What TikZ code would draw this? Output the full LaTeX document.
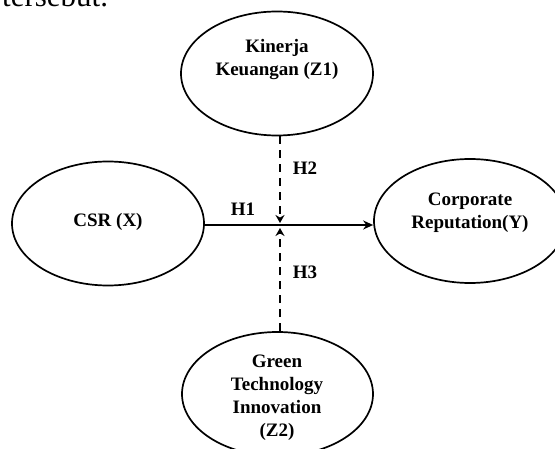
\documentclass[tikz,border=0pt]{standalone}
\usepackage{fontspec}
\setmainfont{Liberation Serif}
\usetikzlibrary{shapes.geometric,arrows.meta}
\tikzset{
  ell/.style={draw, ellipse, line width=1.7pt, inner sep=0pt, minimum width=192pt, minimum height=124pt},
  lbl/.style={font=\fontsize{19}{23}\selectfont\bfseries, align=center, inner sep=0pt},
  hlbl/.style={font=\fontsize{19}{23}\selectfont\bfseries, inner sep=0pt},
  mainarrow/.style={line width=2.3pt, -{Stealth[length=10pt,width=9pt]}},
  dasharrow/.style={line width=2.6pt, dash pattern=on 8pt off 6pt, -{Stealth[length=8pt,width=9pt]}}
}
\begin{document}
\begin{tikzpicture}[x=1pt,y=-1pt]
\useasboundingbox (0,0) rectangle (555,449);
\clip (0,0) rectangle (555,449);
\node[anchor=base west, inner sep=0pt, font=\fontsize{31}{36}\selectfont] (top) at (2,7) {tersebut.};
% ellipses
\node[ell] (z1) at (277,73.5) {};
\node[lbl] (z1t) at (277,60) {Kinerja\\Keuangan (Z1)};
\node[ell] (x) at (108,223.5) {};
\node[lbl] (xt) at (108,222) {CSR (X)};
\node[ell] (y) at (470,221) {};
\node[lbl] (yt) at (470,213) {Corporate\\Reputation(Y)};
\node[ell, minimum width=191pt] (z2) at (277.5,394) {};
\node[lbl] (z2t) at (277,398) {Green\\Technology\\Innovation\\(Z2)};
% connectors
\coordinate (m1) at (280,223);
\coordinate (m2) at (280,228);
\draw[mainarrow] (x.east |- 0,225) -- (y.west |- 0,225);
\draw[dasharrow] (m1 |- z1.south) -- (m1);
\draw[dasharrow] (m2 |- z2.north) -- (m2);
% labels
\node[hlbl] (h1) at (243,209) {H1};
\node[hlbl] (h2) at (305,168) {H2};
\node[hlbl] (h3) at (305,272) {H3};
\end{tikzpicture}
\end{document}
